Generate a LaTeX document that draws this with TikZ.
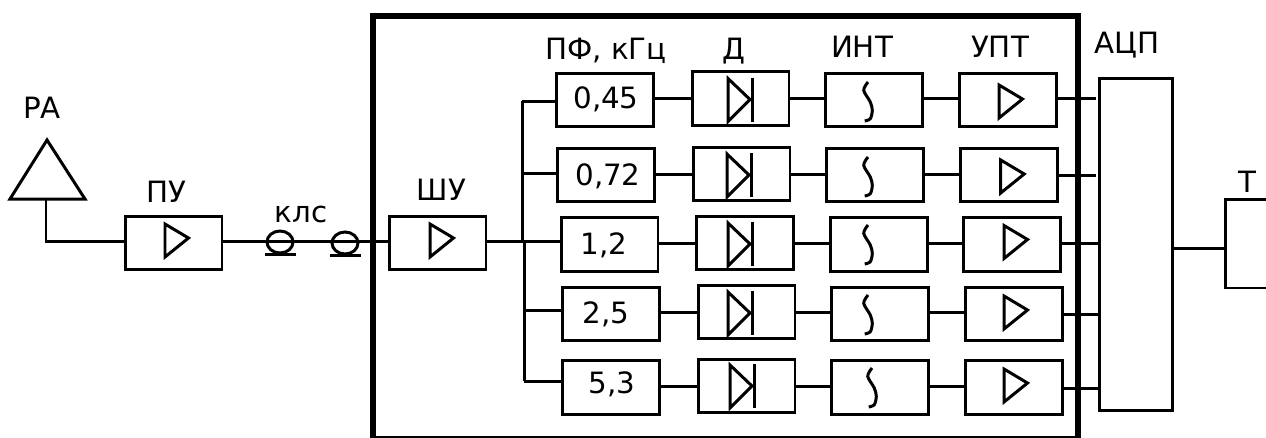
\documentclass[tikz,border=0pt]{standalone}
\usepackage{fontspec}
\setmainfont{DejaVu Sans}
\tikzset{
	block/.style={
			draw, outer sep=0pt, inner sep=0pt, minimum width=1.94cm, minimum height=1.07cm
		},
	lbl/.style={
			anchor=base, inner sep=0pt, font=\fontsize{16.7}{18}\selectfont
		},
	amp/.pic={
			\draw (0, -16.5) to (0, 16.5) to (23.5, -2.5) to cycle;
		},
	rect/.pic={
			\draw (-24, -21) to (-2, 0) to (-24, 22) to cycle;
			\draw (0, -22) to (0, 22);
		},
	integ/.pic={
			\draw plot[smooth] coordinates {(0, 0) (-4.3, 8.3) (2.3, 20) (4.3, 28.3) (2.3, 36.7) (-3.3, 39)};
		},
	cable/.pic={
			\draw (0, 0) ellipse (13 and 11);
			\draw (-15.5, 12) to (15.5, 12);
		}
}

\begin{document}
\begin{tikzpicture}[x=0.02cm, y=-0.02cm, line width=1.7pt]
		\useasboundingbox (0, 0) rectangle (1266, 437);

		\draw[line width=2.9pt] (373, 16) rectangle (1078, 438.5);

		\coordinate (feed) at (46, 199);
		\draw (47, 140) to (85, 199) to (10, 199) to cycle;

		\coordinate (bus1) at (522, 101);
		\coordinate (bus2) at (522, 173);
		\coordinate (bus3) at (523, 241);
		\coordinate (bus4) at (524, 310);
		\coordinate (bus5) at (524, 381);
		\coordinate (tin) at (1225, 248);

		\node[block] (pu) at (173.5, 243) {};
		\node[block] (shu) at (437.5, 243) {};
		\node[block, minimum width=1.46cm, minimum height=6.66cm] (adc) at (1135.5, 244.5) {};
		\node[block, minimum height=1.78cm] (term) at (1273.5, 243.5) {};

		\foreach \r/\dx/\yb/\yd in {1/0/100/98.5, 2/1/175/174, 3/4.5/244.5/243, 4/6/314/312, 5/6/387.5/386} {
			\node[block] (pf\r) at (605+\dx, \yb) {};
			\node[block] (dd\r) at (740.5+\dx, \yd) {};
			\node[block] (int\r) at (874+\dx, \yb) {};
			\node[block] (upt\r) at (1007.5+\dx, \yb) {};
			\draw (bus\r) to (bus\r -| pf\r.west);
			\draw (dd\r.west -| pf\r.east) to (dd\r.west);
			\draw (dd\r.east) to (dd\r.east -| int\r.west);
			\draw (dd\r.east -| int\r.east) to (dd\r.east -| upt\r.west);
		}

		\foreach \r/\xo/\yo in {1/1096/98, 2/1096/175, 3/1099/243, 4/1099/314, 5/1099/388} {
			\coordinate (out\r) at (\xo, \yo);
			\draw (upt\r.east |- out\r) to (out\r);
		}

		\draw (feed) |- (pu.west |- bus3);
		\draw (pu.east |- bus3) to (shu.west |- bus3);
		\draw (shu.east |- bus3) to (bus3);
		\draw (bus1) to (522, 241);
		\draw (524, 241) to (bus5);
		\draw (adc.east |- tin) to (tin);

		\pic at (280, 242) {cable};
		\pic at (345, 243) {cable};
		\pic at (165, 240.5) {amp};
		\pic at (430, 240.5) {amp};

		\foreach \xa/\ya in {999/101.5, 1000.7/176.5, 1004/242, 1004/312.5, 1004/385.5}
			\pic at (\xa, \ya) {amp};
		\foreach \xa/\ya in {752/99.5, 751/175, 752/244, 752/313, 754/386}
			\pic at (\xa, \ya) {rect};
		\foreach \xa/\ya in {868/82, 868/157, 868/225, 868/295, 872/368}
			\pic at (\xa, \ya) {integ};

		\node[lbl] (ra) at (42, 118) {РА};
		\node[lbl] (pul) at (166, 202) {ПУ};
		\node[lbl] (kls) at (301, 222) {клс};
		\node[lbl] (shul) at (441.5, 200) {ШУ};
		\node[lbl] (pfl) at (606, 59) {ПФ, кГц};
		\node[lbl] (ddl) at (733.5, 59) {Д};
		\node[lbl] (intl) at (862, 57) {ИНТ};
		\node[lbl] (uptl) at (1000, 57) {УПТ};
		\node[lbl] (adcl) at (1126.7, 53) {АЦП};
		\node[lbl] (terml) at (1247, 192) {Т};

		\node[lbl] (val1) at (606, 108) {0,45};
		\node[lbl] (val2) at (608, 185) {0,72};
		\node[lbl] (val3) at (604, 254) {1,2};
		\node[lbl] (val4) at (606, 323) {2,5};
		\node[lbl] (val5) at (612, 393) {5,3};
\end{tikzpicture}
\end{document}
